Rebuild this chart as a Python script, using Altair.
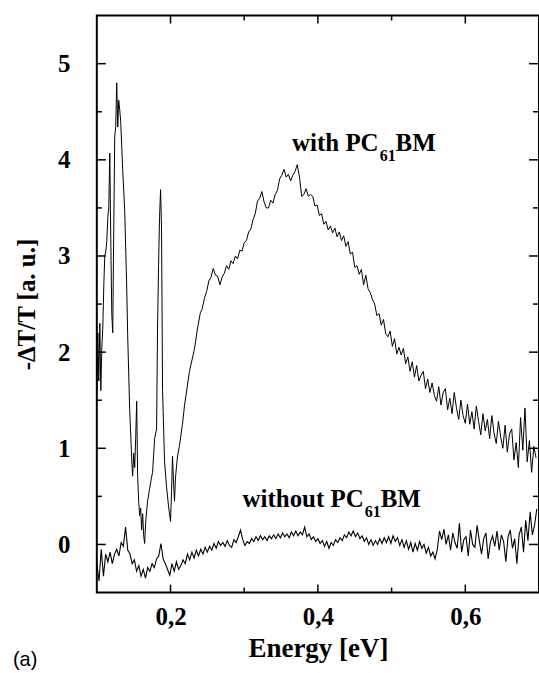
import altair as alt
import numpy as np
import pandas as pd

# ---------- data ----------
# curve "with PC61BM": sharp low-energy structure (explicit energies)
spike_x = [0.1000, 0.1014, 0.1027, 0.1041, 0.1054, 0.1068, 0.1081, 0.1095, 0.1108, 0.1122,
           0.1135, 0.1149, 0.1162, 0.1176, 0.1189, 0.1203, 0.1216, 0.1230, 0.1243, 0.1257,
           0.1270, 0.1284, 0.1297, 0.1311, 0.1324, 0.1351, 0.1378, 0.1405, 0.1419, 0.1446,
           0.1473, 0.1486, 0.1500, 0.1514, 0.1527, 0.1541, 0.1554, 0.1568, 0.1581, 0.1595,
           0.1608, 0.1622, 0.1635, 0.1649, 0.1662, 0.1676, 0.1689, 0.1716, 0.1743, 0.1757,
           0.1784, 0.1811, 0.1824, 0.1838, 0.1851, 0.1865, 0.1878, 0.1892, 0.1919, 0.1946,
           0.1973, 0.2000, 0.2014, 0.2027, 0.2041, 0.2054, 0.2068, 0.2095, 0.2122, 0.2162,
           0.2189, 0.2257, 0.2324, 0.2365, 0.2405]
spike_y = [1.55, 2.20, 1.70, 2.30, 1.60, 2.05, 2.25, 2.70, 3.00, 3.05,
           3.15, 3.40, 3.50, 4.07, 3.20, 2.40, 2.20, 3.30, 4.24, 4.35,
           4.80, 4.34, 4.62, 4.52, 4.40, 3.90, 3.48, 2.70, 2.17, 1.40,
           0.90, 0.71, 0.95, 0.80, 1.10, 1.49, 0.71, 0.45, 0.30, 0.38,
           0.15, 0.32, 0.10, 0.01, 0.22, 0.35, 0.45, 0.58, 0.70, 0.75,
           1.10, 1.20, 2.24, 2.90, 3.40, 3.69, 3.30, 1.60, 0.86, 0.60,
           0.40, 0.24, 0.55, 0.92, 0.65, 0.45, 0.70, 0.92, 1.03, 1.25,
           1.44, 1.80, 2.03, 2.24, 2.41]

# curve "with PC61BM": broad band, sampled every 0.003 eV from 0.243 eV
band_start = 0.243
band_step = 0.003
band_y = [2.45, 2.56, 2.63, 2.74, 2.78, 2.87, 2.80, 2.79, 2.70, 2.78,
          2.82, 2.90, 2.86, 2.95, 2.92, 3.00, 2.97, 3.06, 3.05, 3.14,
          3.16, 3.25, 3.28, 3.38, 3.44, 3.57, 3.60, 3.67, 3.56, 3.50,
          3.50, 3.58, 3.55, 3.64, 3.68, 3.80, 3.84, 3.90, 3.82, 3.85,
          3.78, 3.84, 3.88, 3.95, 3.82, 3.62, 3.64, 3.70, 3.62, 3.64,
          3.62, 3.52, 3.53, 3.42, 3.44, 3.33, 3.36, 3.27, 3.31, 3.24,
          3.29, 3.20, 3.25, 3.16, 3.21, 3.10, 3.15, 3.02, 3.04, 2.88,
          2.90, 2.81, 2.86, 2.70, 2.80, 2.66, 2.62, 2.55, 2.50, 2.38,
          2.40, 2.28, 2.34, 2.19, 2.16, 2.22, 2.06, 2.14, 1.98, 2.05,
          1.97, 2.04, 1.88, 1.95, 1.80, 1.90, 1.74, 1.86, 1.70, 1.76,
          1.80, 1.62, 1.72, 1.58, 1.68, 1.55, 1.49, 1.64, 1.45, 1.58,
          1.62, 1.40, 1.52, 1.36, 1.58, 1.42, 1.30, 1.50, 1.34, 1.26,
          1.46, 1.25, 1.38, 1.20, 1.44, 1.28, 1.14, 1.36, 1.18, 1.30,
          1.10, 1.34, 1.16, 1.05, 1.28, 1.12, 1.00, 1.24, 0.96, 1.15,
          1.20, 0.88, 1.06, 0.80, 1.32, 0.98, 1.42, 0.86, 1.08, 0.75,
          1.02, 0.90]

# curve "without PC61BM", sampled every 0.003 eV from 0.100 eV
low_start = 0.100
low_step = 0.003
low_y = [-0.20, -0.38, -0.05, -0.33, -0.10, -0.18, -0.08, -0.20, -0.10, -0.05,
         -0.12, 0.02, -0.02, 0.18, -0.06, -0.10, -0.20, -0.16, -0.28, -0.22,
         -0.33, -0.26, -0.35, -0.24, -0.28, -0.20, -0.24, -0.15, -0.12, 0.01,
         -0.15, -0.20, -0.26, -0.32, -0.20, -0.28, -0.18, -0.26, -0.22, -0.16,
         -0.20, -0.10, -0.16, -0.08, -0.14, -0.06, -0.12, -0.05, -0.10, -0.03,
         -0.08, -0.02, -0.06, 0.01, -0.04, 0.03, -0.01, 0.02, -0.02, 0.04,
         -0.01, -0.03, 0.05, 0.02, 0.08, 0.15, 0.05, -0.01, 0.03, 0.01,
         0.06, 0.03, 0.08, 0.04, 0.09, 0.05, 0.08, 0.04, 0.09, 0.06,
         0.10, 0.06, 0.11, 0.07, 0.12, 0.08, 0.11, 0.07, 0.13, 0.09,
         0.14, 0.09, 0.13, 0.10, 0.18, 0.08, 0.11, 0.05, 0.08, 0.03,
         0.06, 0.01, 0.04, -0.02, 0.03, -0.04, 0.02, -0.01, 0.05, 0.02,
         0.07, 0.04, 0.10, 0.07, 0.13, 0.09, 0.14, 0.08, 0.12, 0.06,
         0.09, 0.03, 0.07, 0.00, 0.05, -0.01, 0.04, 0.00, 0.06, 0.01,
         0.07, 0.02, 0.08, 0.01, 0.09, 0.03, 0.07, -0.01, 0.05, -0.03,
         0.04, -0.05, 0.02, -0.08, 0.01, -0.06, 0.03, -0.04, 0.00, -0.09,
         -0.03, -0.12, -0.08, -0.15, -0.05, 0.14, 0.05, 0.16, 0.00, 0.10,
         -0.06, 0.12, 0.02, -0.04, 0.22, -0.08, 0.05, 0.08, -0.12, 0.15,
         0.00, -0.03, 0.20, 0.04, -0.10, 0.06, 0.12, -0.15, 0.02, 0.09,
         -0.02, 0.14, -0.06, 0.10, 0.03, -0.18, 0.08, 0.15, -0.04, 0.06,
         -0.20, 0.10, 0.18, -0.08, 0.25, 0.04, 0.34, 0.10, 0.20, 0.37]

y_major = [0, 1, 2, 3, 4, 5]
y_minor = [0.5, 1.5, 2.5, 3.5, 4.5]
x_major = [0.2, 0.4, 0.6]
x_minor = [0.3, 0.5]

ann_main = ["with PC", "without PC"]
ann_sub = ["61", "61"]
ann_tail = ["BM", "BM"]
ann_main_x = [0.4824, 0.4622]
ann_main_y = [4.088, 0.393]
ann_sub_x = [0.4838, 0.4635]
ann_sub_y = [3.984, 0.289]
ann_tail_x = [0.5054, 0.4851]

# ---------- build tables ----------
band_x = np.round(band_start + band_step * np.arange(len(band_y)), 4)
low_x = np.round(low_start + low_step * np.arange(len(low_y)), 4)
upper = pd.DataFrame({"e": list(spike_x) + list(band_x), "s": list(spike_y) + list(band_y)})
lower = pd.DataFrame({"e": low_x, "s": low_y})

W, H = 443, 578
SERIF = "Liberation Serif"
sx = alt.Scale(domain=[0.1, 0.7], nice=False, zero=False)
sy = alt.Scale(domain=[-0.5, 5.5], nice=False, zero=False)

xaxis = alt.Axis(values=x_major, labelExpr="replace(format(datum.value, '.1f'), '.', ',')",
                 ticks=False, tickSize=0, domain=False, grid=False,
                 labelFont=SERIF, labelFontWeight="bold", labelFontSize=25, labelPadding=12,
                 labelColor="black", title="Energy [eV]", titleFont=SERIF,
                 titleFontWeight="bold", titleFontSize=27, titlePadding=6, titleColor="black")
yaxis = alt.Axis(values=y_major, format="d", ticks=False, tickSize=0, domain=False, grid=False,
                 labelFont=SERIF, labelFontWeight="bold", labelFontSize=25, labelPadding=27,
                 labelColor="black", title="-ΔT/T [a. u.]", titleFont=SERIF,
                 titleFontWeight="bold", titleFontSize=25, titlePadding=18, titleColor="black")


def X(field):
    return alt.X(field, scale=sx, axis=xaxis)


def Y(field):
    return alt.Y(field, scale=sy, axis=yaxis)


up_line = alt.Chart(upper).mark_line(color="black", strokeWidth=1, clip=True).encode(
    x=X("e:Q"), y=Y("s:Q"))
low_line = alt.Chart(lower).mark_line(color="black", strokeWidth=1.1, clip=True).encode(
    x=X("e:Q"), y=Y("s:Q"))


def yticks(vals, a, b):
    return alt.Chart(pd.DataFrame({"s": vals})).mark_rule(color="black", strokeWidth=1.5).encode(
        y=Y("s:Q"), x=alt.value(a), x2=alt.value(b))


def xticks(vals, a, b):
    return alt.Chart(pd.DataFrame({"e": vals})).mark_rule(color="black", strokeWidth=1.5).encode(
        x=X("e:Q"), y=alt.value(a), y2=alt.value(b))


tick_layers = [
    yticks(y_major, 0, 9), yticks(y_minor, 0, 5),
    yticks(y_major, W - 10, W), yticks(y_minor, W - 6, W),
    xticks(x_major, H - 8, H), xticks(x_minor, H - 5, H),
    xticks(x_major, 0, 8), xticks(x_minor, 0, 5),
]


def texts(xs, ys, ts, size, align):
    return alt.Chart(pd.DataFrame({"e": xs, "s": ys, "t": ts})).mark_text(
        font=SERIF, fontWeight="bold", fontSize=size, align=align, baseline="alphabetic",
        color="black").encode(x=X("e:Q"), y=Y("s:Q"), text="t:N")


t_main = texts(ann_main_x, ann_main_y, ann_main, 25, "right")
t_sub = texts(ann_sub_x, ann_sub_y, ann_sub, 16, "left")
t_tail = texts(ann_tail_x, ann_main_y, ann_tail, 25, "left")

panel = alt.Chart(pd.DataFrame({"t": ["(a)"]})).mark_text(
    font="Liberation Sans", fontSize=20, align="left", baseline="alphabetic", color="black"
).encode(x=alt.value(-84), y=alt.value(H + 74), text="t:N")

chart = alt.layer(up_line, low_line, *tick_layers, t_main, t_sub, t_tail, panel).properties(
    width=W, height=H,
    autosize=alt.AutoSizeParams(type="none"),
    padding={"left": 97, "top": 15, "right": 0, "bottom": 80},
    background="white",
).configure_view(stroke="black", strokeWidth=2)

chart.save("out.html", embed_options={"renderer": "svg", "actions": False})
